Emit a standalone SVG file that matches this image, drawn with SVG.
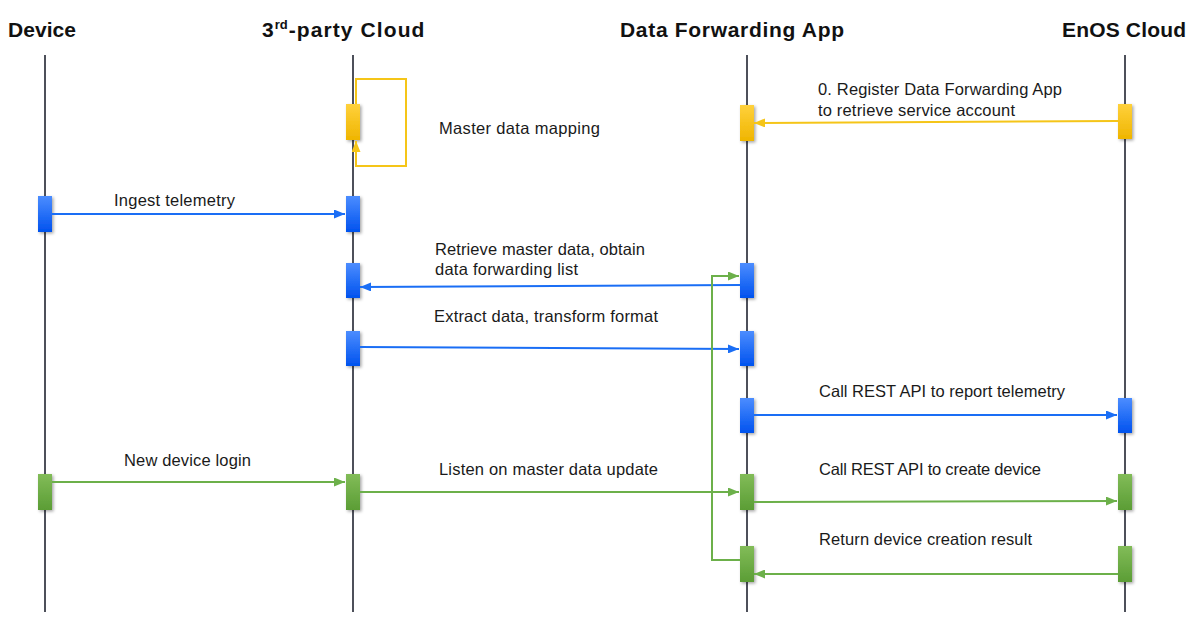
<svg xmlns="http://www.w3.org/2000/svg" width="1199" height="628" viewBox="0 0 1199 628">
<defs>
<linearGradient id="gBlue" x1="0" y1="0" x2="0" y2="1"><stop offset="0" stop-color="#4c8dff"/><stop offset="1" stop-color="#0052ee"/></linearGradient>
<linearGradient id="gYellow" x1="0" y1="0" x2="0" y2="1"><stop offset="0" stop-color="#ffd13c"/><stop offset="1" stop-color="#efb500"/></linearGradient>
<linearGradient id="gGreen" x1="0" y1="0" x2="0" y2="1"><stop offset="0" stop-color="#82bc58"/><stop offset="1" stop-color="#5b9d35"/></linearGradient>
<filter id="sh" x="-50%" y="-20%" width="200%" height="140%"><feDropShadow dx="1.5" dy="1.5" stdDeviation="1.5" flood-color="#000" flood-opacity="0.35"/></filter>
<marker id="aB" markerWidth="11" markerHeight="9" refX="11" refY="4.5" orient="auto" markerUnits="userSpaceOnUse"><path d="M0,0 L11,4.5 L0,9 z" fill="#1a6ef5"/></marker>
<marker id="aY" markerWidth="11" markerHeight="9" refX="11" refY="4.5" orient="auto" markerUnits="userSpaceOnUse"><path d="M0,0 L11,4.5 L0,9 z" fill="#f5c518"/></marker>
<marker id="aG" markerWidth="11" markerHeight="9" refX="11" refY="4.5" orient="auto" markerUnits="userSpaceOnUse"><path d="M0,0 L11,4.5 L0,9 z" fill="#6cb04a"/></marker>
</defs>
<style>
.life{stroke:#4d505a;stroke-width:2;fill:none}
.hdr{font-family:"Liberation Sans",Arial,sans-serif;font-weight:bold;font-size:21px;fill:#111}
.lbl{font-family:"Liberation Sans",Arial,sans-serif;font-size:16.5px;fill:#1a1a1a}
.b{fill:url(#gBlue);filter:url(#sh)}
.y{fill:url(#gYellow);filter:url(#sh)}
.g{fill:url(#gGreen);filter:url(#sh)}
.lb{stroke:#1a6ef5;stroke-width:2;fill:none;marker-end:url(#aB)}
.ly{stroke:#f5c518;stroke-width:2;fill:none;marker-end:url(#aY)}
.lg{stroke:#6cb04a;stroke-width:2;fill:none;marker-end:url(#aG)}
</style>
<rect width="1199" height="628" fill="#fff"/>

<g id="node-device">
<text class="hdr" x="8" y="37" textLength="68" lengthAdjust="spacing">Device</text>
<line class="life" x1="45" y1="55" x2="45" y2="612"/>
<rect class="b" x="38" y="196" width="14" height="36"/>
<rect class="g" x="38" y="474" width="14" height="36"/>
</g>

<g id="node-thirdparty">
<text class="hdr" x="262" y="37">3<tspan font-size="13" dx="1" dy="-8">rd</tspan><tspan dx="1" dy="8" letter-spacing="1.1">-party Cloud</tspan></text>
<line class="life" x1="353" y1="55" x2="353" y2="612"/>
<rect class="y" x="346" y="104" width="14" height="36"/>
<rect class="b" x="346" y="196" width="14" height="36"/>
<rect class="b" x="346" y="263" width="14" height="35"/>
<rect class="b" x="346" y="331" width="14" height="35"/>
<rect class="g" x="346" y="474" width="14" height="36"/>
</g>

<g id="node-dfa">
<text class="hdr" x="620" y="37" textLength="224" lengthAdjust="spacing">Data Forwarding App</text>
<line class="life" x1="747" y1="55" x2="747" y2="612"/>
<rect class="y" x="740" y="105" width="14" height="36"/>
<rect class="b" x="740" y="263" width="14" height="35"/>
<rect class="b" x="740" y="331" width="14" height="35"/>
<rect class="b" x="740" y="398" width="14" height="35"/>
<rect class="g" x="740" y="474" width="14" height="36"/>
<rect class="g" x="740" y="546" width="14" height="36"/>
</g>

<g id="node-enos">
<text class="hdr" x="1062" y="37" textLength="124" lengthAdjust="spacing">EnOS Cloud</text>
<line class="life" x1="1125" y1="55" x2="1125" y2="612"/>
<rect class="y" x="1118" y="104" width="14" height="35"/>
<rect class="b" x="1118" y="398" width="14" height="35"/>
<rect class="g" x="1118" y="474" width="14" height="36"/>
<rect class="g" x="1118" y="546" width="14" height="36"/>
</g>

<g id="connectors">
<path class="ly" d="M356,104 V79 H406 V166 H356 V141"/>
<path class="ly" d="M1118,121 L754,123"/>
<path class="lb" d="M52,214 L345,214"/>
<path class="lb" d="M740,285 L360,287"/>
<path class="lb" d="M360,347 L739,349"/>
<path class="lb" d="M754,415 L1117,415"/>
<path class="lg" d="M52,482 L345,482"/>
<path class="lg" d="M360,492 L739,492"/>
<path class="lg" d="M754,502 L1117,501"/>
<path class="lg" d="M1118,574 L754,574"/>
<path class="lg" d="M740,560 H712 V276 H739"/>
</g>

<g id="labels">
<text class="lbl" x="818" y="95" textLength="244" lengthAdjust="spacing">0. Register Data Forwarding App</text>
<text class="lbl" x="818" y="116" textLength="197" lengthAdjust="spacing">to retrieve service account</text>
<text class="lbl" x="439" y="134" textLength="161" lengthAdjust="spacing">Master data mapping</text>
<text class="lbl" x="114" y="206" textLength="121" lengthAdjust="spacing">Ingest telemetry</text>
<text class="lbl" x="435" y="255" textLength="210" lengthAdjust="spacing">Retrieve master data, obtain</text>
<text class="lbl" x="435" y="275" textLength="143" lengthAdjust="spacing">data forwarding list</text>
<text class="lbl" x="434" y="322" textLength="224" lengthAdjust="spacing">Extract data, transform format</text>
<text class="lbl" x="819" y="397" textLength="246" lengthAdjust="spacing">Call REST API to report telemetry</text>
<text class="lbl" x="124" y="466" textLength="127" lengthAdjust="spacing">New device login</text>
<text class="lbl" x="439" y="475" textLength="219" lengthAdjust="spacing">Listen on master data update</text>
<text class="lbl" x="819" y="475" textLength="222" lengthAdjust="spacing">Call REST API to create device</text>
<text class="lbl" x="819" y="545" textLength="213" lengthAdjust="spacing">Return device creation result</text>
</g>
</svg>
